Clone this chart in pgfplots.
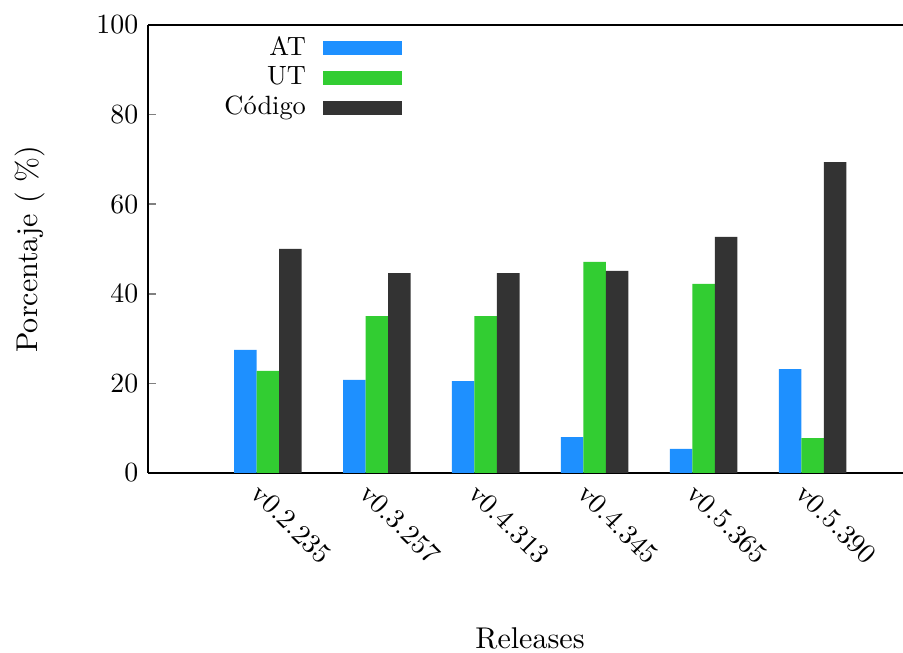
\documentclass[border=0pt]{standalone}
\usepackage{pgfplots}
\pgfplotsset{compat=1.18}
\definecolor{cAT}{RGB}{30,144,255}
\definecolor{cUT}{RGB}{50,205,50}
\definecolor{cCod}{RGB}{51,51,51}
\begin{document}
\begin{tikzpicture}
\begin{axis}[
  name=ax,
  scale only axis,
  width=271.58pt, height=161.15pt,
  xmin=-1.1, xmax=5.83,
  ymin=0, ymax=100,
  axis x line=box, axis y line=left,
  axis line style={line width=0.8pt, -},
  ybar=0pt, bar width=8.1pt,
  xtick={0,1,2,3,4,5},
  xticklabels={v0.2.235,v0.3.257,v0.4.313,v0.4.345,v0.5.365,v0.5.390},
  x tick style={draw=none},
  xticklabel style={rotate=-45, anchor=north west, xshift=-2.5pt},
  ytick={0,20,40,60,80,100},
  ytick pos=left,
  y tick style={line width=0.6pt},
  major tick length=3pt,
  tick align=inside,
  ylabel={Porcentaje ( \%)},
  ylabel style={at={(axis description cs:-0.156,0.5)}, anchor=center, rotate=0, font=\fontsize{10.8}{13}\selectfont},
  xlabel={Releases},
  xlabel style={at={(axis description cs:0.506,-0.3686)}, anchor=center, font=\fontsize{10.8}{13}\selectfont},
  legend style={at={(axis description cs:0.3377,0.988)}, anchor=north east, draw=none, fill=none, inner sep=0pt, row sep=-1.4pt, font=\fontsize{9.5}{11}\selectfont},
  legend cell align=right,
  legend plot pos=right,
  legend image code/.code={\path (0pt,0pt); \fill[#1] (4.3pt,-2.5pt) rectangle (32.7pt,2.5pt);},
]
\addplot[draw=none, fill=cAT] coordinates {(0,27.5) (1,20.8) (2,20.5) (3,8.0) (4,5.4) (5,23.2)};
\addplot[draw=none, fill=cUT] coordinates {(0,22.8) (1,35.0) (2,35.0) (3,47.1) (4,42.2) (5,7.8)};
\addplot[draw=none, fill=cCod] coordinates {(0,50.0) (1,44.6) (2,44.6) (3,45.1) (4,52.7) (5,69.4)};
\legend{AT,UT,Código}
\end{axis}
\pgfresetboundingbox
\path[use as bounding box] (ax.south west) ++(-53.24pt,-64.75pt) rectangle ++(324.82pt,234.89pt);
\end{tikzpicture}
\end{document}
